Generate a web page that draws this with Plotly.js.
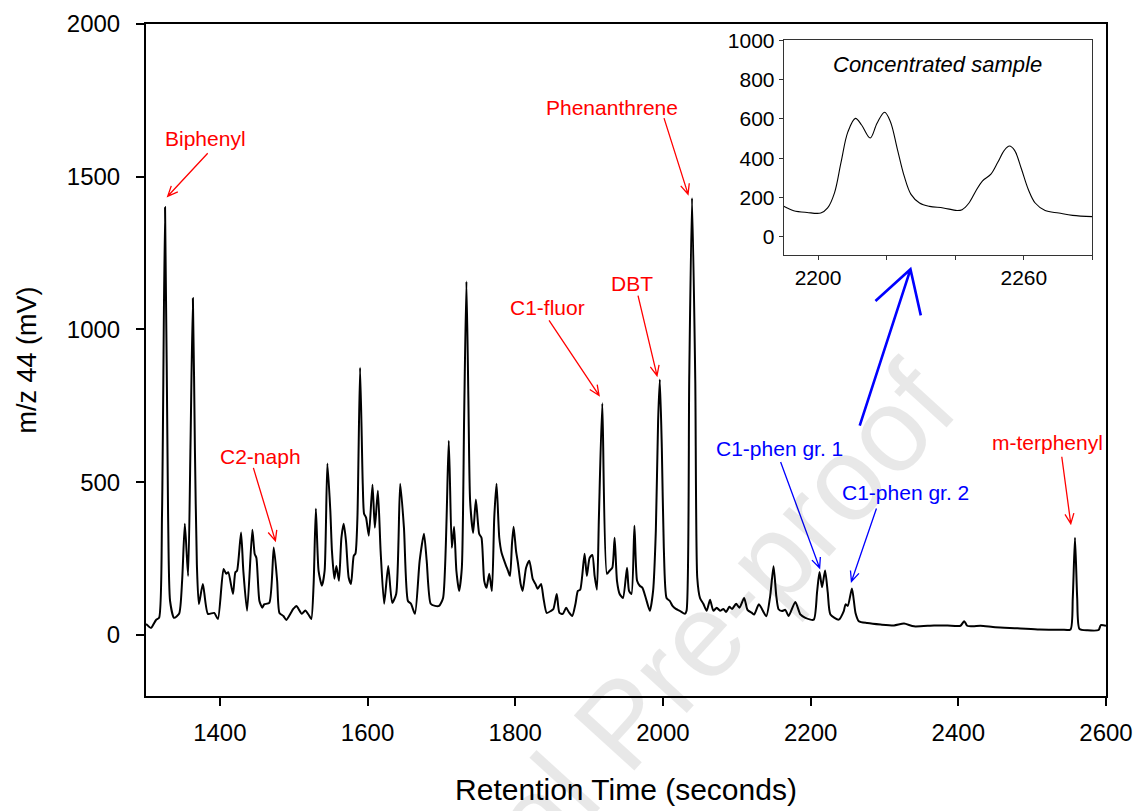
<!DOCTYPE html>
<html>
<head>
<meta charset="utf-8">
<script src="https://cdn.plot.ly/plotly-3.0.1.min.js"></script>
<style>
html,body{margin:0;padding:0;background:#ffffff;}
#chart{width:1136px;height:811px;}
</style>
</head>
<body>
<div id="chart"></div>
<script>
// ---- Main chromatogram (m/z 44, mV) ----
const retentionTime = [
1300,1306.8,1313.6,1317.7,1321.7,1325.8,1329.9,1332.6,1338,1344.8,
1348.9,1352.6,1357,1360.2,1363.5,1366.2,1368.9,1371.6,1377,1383.8,
1392.4,1397.4,1405,1408.7,1411.4,1417.8,1421,1423.3,1428.7,1431.8,
1436.9,1444,1447.2,1449.5,1453.6,1457.6,1460,1467,1473,1477.6,
1480.7,1486,1490,1499.4,1503.8,1506.6,1511,1515.7,1520.2,1523.8,
1527,1530,1533.7,1538.2,1541.9,1545.6,1549.6,1551.8,1555.1,1557.8,
1561.3,1564.6,1567.7,1570.8,1574.5,1577.6,1581.3,1583.6,1586.3,1589.9,
1593.5,1595.3,1598,1601.7,1606.7,1609.9,1614,1617.7,1622.5,1628,
1633.4,1638.8,1644.2,1649.3,1654.7,1658.8,1664.2,1670.6,1676.4,1680.1,
1685.5,1691.4,1696.8,1702.3,1710,1714.1,1717.2,1720.3,1724,1727.7,
1730.8,1733.9,1736.6,1738.9,1743,1746.7,1751.2,1754.3,1758,1761.1,
1764.8,1768.4,1771.6,1774.7,1778.4,1781.5,1786.1,1790.2,1792.9,1795.6,
1797.8,1801.1,1803.8,1807.3,1810,1814.7,1819.1,1823.6,1827.3,1830.4,
1835,1838.2,1842.6,1848.6,1851.7,1856.2,1859.9,1864.4,1869,1872.5,
1877.2,1881.6,1884.8,1888,1893.9,1897,1900.7,1904.4,1907.5,1910.6,
1913.3,1917.9,1924.2,1927.8,1931.5,1934.6,1937.8,1941.4,1945.9,1951.4,
1954.1,1957.4,1961.4,1965,1968.6,1972.3,1976.8,1982.3,1986.7,1990.4,
1993.5,1995.8,1998.5,2001.2,2004.9,2009.4,2013,2017.5,2022.9,2029.7,
2032,2035.6,2039.4,2043.8,2046.5,2050.2,2054.7,2059.3,2063.8,2068.3,
2072.9,2077.4,2081.9,2085.5,2090,2093.7,2099.1,2103.6,2110,2114.5,
2120.5,2123.6,2130,2139.9,2145.3,2149.8,2153.5,2156.6,2161.2,2165.7,
2170.2,2179.3,2186.1,2192.9,2204.2,2208.7,2212,2215.5,2219.6,2223.2,
2226.8,2238.1,2244.9,2247.3,2250.3,2256,2260.8,2265.3,2276.7,2294.8,
2312.9,2326.5,2340,2367.2,2385.4,2403,2408,2412,2420,2430,
2450,2480,2510,2540,2552,2555,2558,2561,2564,2575,
2590,2593,2600
];
const signalMv = [
36,23,49,56,396,1400,396,111,56,69,
177,364,193,613,1102,613,230,101,167,69,
72,52,216,200,205,134,205,210,335,210,
79,344,265,252,111,89,100,105,286,177,
72,62,49,85,95,85,69,80,66,52,
167,413,210,161,210,561,407,275,184,226,
177,318,364,308,187,167,259,266,384,875,
495,397,384,325,492,351,472,275,102,226,
105,134,495,351,111,102,69,243,331,243,
102,95,95,121,636,285,354,210,144,220,
712,1157,767,439,334,443,331,318,177,154,
200,144,384,495,318,269,236,210,193,298,
354,275,233,167,144,220,243,184,167,151,
167,121,72,79,85,134,72,69,89,75,
62,102,144,148,266,193,252,262,193,148,
384,758,200,210,220,318,177,134,121,220,
144,134,357,177,161,154,121,79,144,341,
702,836,613,285,121,111,95,85,79,69,
79,833,1430,833,187,121,102,79,115,79,
89,79,85,75,92,85,102,89,121,82,
72,67,100,61,128,225,128,84,78,82,
62,108,67,56,50,139,206,156,211,139,
67,50,78,100,95,152,72,45,39,34,
31,37,28,31,31,30,45,30,28,30,
25,22,18,17,18,120,318,120,20,15,
16,32,30
];

// ---- Inset: concentrated sample ----
const insetTime = [2190,2192.9,2196.8,2200.8,2202.8,2204.8,2206.7,2208.7,2210.9,2212.7,
2215.2,2217.2,2219.4,2221.1,2223.1,2225.1,2227.1,2229.6,2232.5,2236.5,
2240.5,2242,2244,2246,2247.9,2250.4,2252.4,2254.3,2255.8,2257.3,
2259.3,2261.3,2263.3,2266.2,2270.2,2274.2,2280];
const insetSignal = [155,133,124,121,147,224,379,534,603,569,
503,578,634,586,448,310,216,172,155,147,
134,138,172,233,284,319,379,440,462,440,
345,241,172,134,121,109,103];

// ---- Peak labels ----
const peakLabels = ['Biphenyl','C2-naph','C1-fluor','DBT','Phenanthrene','C1-phen gr. 1','C1-phen gr. 2','m-terphenyl'];
const labelX = [1380,1455,1844,1958,1931,2158,2329,2521];
const labelY = [1626,584,1072,1151,1728,610,466,630];
const labelColor = ['red','red','red','red','red','blue','blue','red'];
const arrowTipX = [1329.4,1475.2,1913.5,1992,2034,2212.2,2255.3,2552.3];
const arrowTipY = [1436,308,784,849,1443,219,175,364];
const arrowDx = [40,-22,-50,-19,-24,-39,25,-9];
const arrowDy = [43,73,75,80,76,106,73,67];

const insetTickVals = [2200,2220,2240,2260,2280];
const insetTickText = ['2200','','','2260',''];

const FONT = 'Liberation Sans, Arial, Helvetica, sans-serif';

function arrowPath(dx, dy){
  const len = Math.sqrt(dx*dx+dy*dy);
  const ux = dx/len, uy = dy/len;
  const L = 11, a = 24*Math.PI/180;
  const b1x = L*(ux*Math.cos(a)-uy*Math.sin(a)), b1y = L*(ux*Math.sin(a)+uy*Math.cos(a));
  const b2x = L*(ux*Math.cos(-a)-uy*Math.sin(-a)), b2y = L*(ux*Math.sin(-a)+uy*Math.cos(-a));
  return `M${dx},${dy}L0,0M${b1x.toFixed(2)},${b1y.toFixed(2)}L0,0L${b2x.toFixed(2)},${b2y.toFixed(2)}`;
}

const shapes = peakLabels.map((_, i) => ({
  type:'path', xref:'x', yref:'y', xsizemode:'pixel', ysizemode:'pixel',
  xanchor: arrowTipX[i], yanchor: arrowTipY[i],
  path: arrowPath(arrowDx[i], arrowDy[i]),
  line:{color:labelColor[i], width:1.3}
}));
// blue pointer from the C1-phen groups up to the inset
shapes.push({
  type:'path', xref:'x', yref:'y',
  path:'M2287.8,1093L2335.2,1197L2349.2,1046M2335.2,1197L2266.5,685',
  line:{color:'#0000ff', width:2.6}
});

const annotations = [{
  x: 0.496, y: -0.04, xref:'paper', yref:'paper', xanchor:'center', yanchor:'middle',
  text:'Journal Pre-proof', showarrow:false,
  textangle:-47.7, font:{family:FONT, size:119, color:'rgba(0,0,0,0.09)'}
}];
peakLabels.forEach((t, i) => annotations.push({
  x: labelX[i], y: labelY[i], xref:'x', yref:'y', text: t, showarrow:false,
  font:{family:FONT, size:21, color:labelColor[i]}
}));
annotations.push({
  x: 2234.9, y: 879, xref:'x2', yref:'y2', text:'<i>Concentrated sample</i>', showarrow:false,
  font:{family:FONT, size:22, color:'#000'}
});

const traces = [
  {x: retentionTime, y: signalMv, type:'scatter', mode:'lines',
   line:{color:'#000', width:2, shape:'spline', smoothing:0.6}, xaxis:'x', yaxis:'y', hoverinfo:'skip'},
  {x: insetTime, y: insetSignal, type:'scatter', mode:'lines',
   line:{color:'#000', width:1.1, shape:'spline', smoothing:1}, xaxis:'x2', yaxis:'y2', hoverinfo:'skip'}
];

const layout = {
  width:1136, height:811,
  margin:{l:146, r:30, t:24, b:115},
  paper_bgcolor:'#fff', plot_bgcolor:'#fff',
  showlegend:false,
  font:{family:FONT, color:'#000'},
  xaxis:{
    domain:[0,1], range:[1300,2600], tick0:1400, dtick:200,
    ticks:'outside', ticklen:8, tickwidth:2, tickcolor:'#000',
    showline:true, linewidth:2, linecolor:'#000', mirror:true,
    showgrid:false, zeroline:false, tickfont:{size:24, family:FONT},
    ticklabelstandoff:6,
    title:{text:'Retention Time (seconds)', font:{size:30, family:FONT}, standoff:34}
  },
  yaxis:{
    domain:[0,1], range:[-200,2000], tick0:0, dtick:500,
    ticks:'outside', ticklen:8, tickwidth:2, tickcolor:'#000',
    showline:true, linewidth:2, linecolor:'#000', mirror:true,
    showgrid:false, zeroline:false, tickfont:{size:24, family:FONT},
    ticklabelstandoff:11,
    title:{text:'m/z 44 (mV)', font:{size:27, family:FONT}, standoff:22}
  },
  xaxis2:{
    domain:[0.6643,0.9859], anchor:'y2', range:[2190,2280],
    tickvals:insetTickVals, ticktext:insetTickText,
    ticks:'outside', ticklen:4, tickwidth:1, tickcolor:'#333',
    showline:true, linewidth:1, linecolor:'#333', mirror:true,
    showgrid:false, zeroline:false, tickfont:{size:21, family:FONT},
    ticklabelstandoff:0
  },
  yaxis2:{
    domain:[0.6567,0.9757], anchor:'x2', range:[-91,1000], tick0:0, dtick:200,
    ticks:'outside', ticklen:4, tickwidth:1, tickcolor:'#333',
    showline:true, linewidth:1, linecolor:'#333', mirror:true,
    showgrid:false, zeroline:false, tickfont:{size:21, family:FONT},
    ticklabelstandoff:0
  },
  shapes: shapes,
  annotations: annotations
};

Plotly.newPlot('chart', traces, layout, {displayModeBar:false, staticPlot:true});
</script>
</body>
</html>
